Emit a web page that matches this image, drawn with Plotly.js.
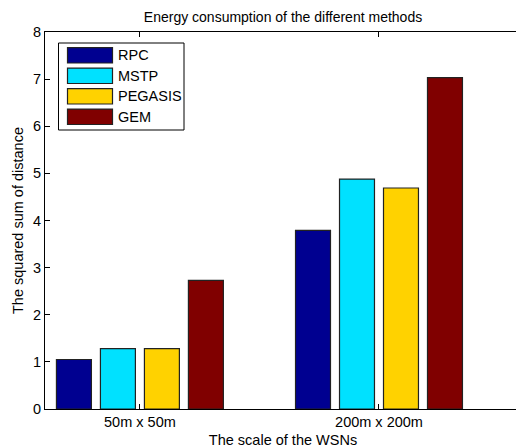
<!DOCTYPE html>
<html>
<head>
<meta charset="utf-8">
<script src="https://cdn.plot.ly/plotly-3.0.1.min.js"></script>
<style>
  html, body { margin: 0; padding: 0; background: #fff; overflow: hidden; width: 516px; height: 448px; }
  #chart { width: 530px; height: 448px; }
</style>
</head>
<body>
<div id="chart"></div>
<script>
// Network scales on the x axis
const scales = ['50m x 50m', '200m x 200m'];

// Squared sum of distance for each method
const methods = ['RPC', 'MSTP', 'PEGASIS', 'GEM'];
const rpc     = [1.05, 3.79];
const mstp    = [1.28, 4.88];
const pegasis = [1.28, 4.69];
const gem     = [2.73, 7.03];
const colors  = ['#000090', '#00E1FF', '#FFD200', '#800000'];

const yTicks = [0, 1, 2, 3, 4, 5, 6, 7, 8];

const seriesValues = [rpc, mstp, pegasis, gem];
const family = 'Liberation Sans, Arial, Helvetica, sans-serif';
const font = { family: family, size: 14.5, color: '#000' };

const traces = methods.map((name, i) => ({
  type: 'bar',
  name: name,
  x: scales,
  y: seriesValues[i],
  marker: { color: colors[i], line: { color: '#222', width: 1.2 } },
  hoverinfo: 'x+y+name'
}));

// Boxed legend with wide swatches, laid out in paper coordinates
const W = 530, H = 448, L = 45, R = 9, T = 32, B = 39;
const pw = W - L - R, ph = H - T - B;
const px = v => (v - L) / pw;
const py = v => (H - B - v) / ph;

const shapes = [{
  type: 'rect', xref: 'paper', yref: 'paper',
  x0: px(58.5), x1: px(184), y0: py(43), y1: py(130),
  line: { color: '#000', width: 1 }, fillcolor: '#fff', layer: 'above'
}];
const annotations = [];
methods.forEach((name, i) => {
  const cy = 55.3 + i * 20.5;
  shapes.push({
    type: 'rect', xref: 'paper', yref: 'paper',
    x0: px(67.5), x1: px(112.5), y0: py(cy - 7.7), y1: py(cy + 7.7),
    line: { color: '#222', width: 1.2 }, fillcolor: colors[i], layer: 'above'
  });
  annotations.push({
    xref: 'paper', yref: 'paper', x: px(116), y: py(cy),
    xanchor: 'left', yanchor: 'middle', showarrow: false,
    text: name, font: font
  });
});

const layout = {
  width: W, height: H,
  margin: { l: L, r: R, t: T, b: B, pad: 0 },
  paper_bgcolor: '#fff', plot_bgcolor: '#fff',
  font: font,
  showlegend: false,
  barmode: 'group',
  bargap: 0.264,
  bargroupgap: 0.205,
  title: {
    text: 'Energy consumption of the different methods',
    font: { family: family, size: 14, color: '#000' },
    x: 0.5, xref: 'paper', xanchor: 'center',
    y: 1 - 17 / H, yref: 'container', yanchor: 'middle'
  },
  xaxis: {
    type: 'category',
    range: [-0.397, 1.594],
    showline: true, linecolor: '#000', linewidth: 1, mirror: 'ticks',
    ticks: 'inside', ticklen: 5, tickcolor: '#000',
    showgrid: false, zeroline: false,
    tickfont: font,
    title: { text: 'The scale of the WSNs', font: font, standoff: 5 }
  },
  yaxis: {
    range: [0, 8],
    tickvals: yTicks,
    showline: true, linecolor: '#000', linewidth: 1, mirror: 'ticks',
    ticks: 'inside', ticklen: 5, tickcolor: '#000',
    showgrid: false, zeroline: false,
    tickfont: font,
    title: { text: 'The squared sum of distance', font: font, standoff: 5 }
  },
  shapes: shapes,
  annotations: annotations
};

Plotly.newPlot('chart', traces, layout, { displayModeBar: false, staticPlot: true });
</script>
</body>
</html>
